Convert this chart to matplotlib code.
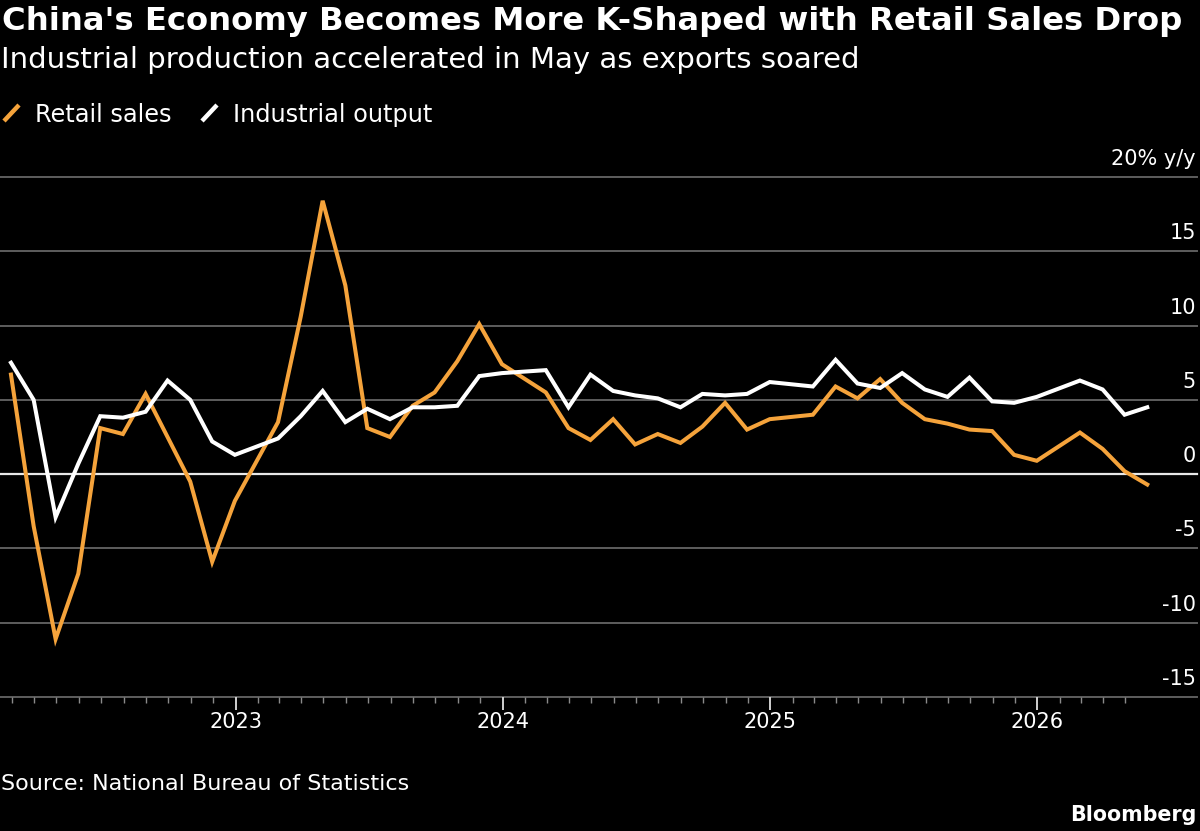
import matplotlib
matplotlib.use("Agg")
import matplotlib.pyplot as plt
import matplotlib.dates as mdates
import matplotlib.transforms as mtransforms
from matplotlib.lines import Line2D
import pandas as pd

# ---- data (month of observation; China reports Jan-Feb combined, no January) ----
months = [
    "2022-02", "2022-03", "2022-04", "2022-05", "2022-06", "2022-07", "2022-08", "2022-09", "2022-10", "2022-11", "2022-12",
    "2023-02", "2023-03", "2023-04", "2023-05", "2023-06", "2023-07", "2023-08", "2023-09", "2023-10", "2023-11", "2023-12",
    "2024-02", "2024-03", "2024-04", "2024-05", "2024-06", "2024-07", "2024-08", "2024-09", "2024-10", "2024-11", "2024-12",
    "2025-02", "2025-03", "2025-04", "2025-05", "2025-06", "2025-07", "2025-08", "2025-09", "2025-10", "2025-11", "2025-12",
    "2026-02", "2026-03", "2026-04", "2026-05",
]
retail_sales = [
    6.7, -3.5, -11.1, -6.7, 3.1, 2.7, 5.4, 2.5, -0.5, -5.9, -1.8,
    3.5, 10.6, 18.4, 12.7, 3.1, 2.5, 4.6, 5.5, 7.6, 10.1, 7.4,
    5.5, 3.1, 2.3, 3.7, 2.0, 2.7, 2.1, 3.2, 4.8, 3.0, 3.7,
    4.0, 5.9, 5.1, 6.4, 4.8, 3.7, 3.4, 3.0, 2.9, 1.3, 0.9,
    2.8, 1.7, 0.2, -0.7,
]
industrial_output = [
    7.5, 5.0, -2.9, 0.7, 3.9, 3.8, 4.2, 6.3, 5.0, 2.2, 1.3,
    2.4, 3.9, 5.6, 3.5, 4.4, 3.7, 4.5, 4.5, 4.6, 6.6, 6.8,
    7.0, 4.5, 6.7, 5.6, 5.3, 5.1, 4.5, 5.4, 5.3, 5.4, 6.2,
    5.9, 7.7, 6.1, 5.8, 6.8, 5.7, 5.2, 6.5, 4.9, 4.8, 5.2,
    6.3, 5.7, 4.0, 4.5,
]
y_ticks = [-15, -10, -5, 0, 5, 10, 15, 20]
y_tick_labels = ["-15", "-10", "-5", "0", "5", "10", "15", "20% y/y"]

title = "China's Economy Becomes More K-Shaped with Retail Sales Drop"
subtitle = "Industrial production accelerated in May as exports soared"
source = "Source: National Bureau of Statistics"

ORANGE = "#F5A33B"
WHITE = "#FFFFFF"
GRID = "#5E5E5E"
BG = "#000000"

# plotted at month end
dates = pd.to_datetime(months) + pd.offsets.MonthEnd(0)

W, H = 1200, 831
fig = plt.figure(figsize=(W / 100, H / 100), dpi=100, facecolor=BG)
plt.rcParams["font.family"] = ["DejaVu Sans"]

def fy(py):
    return 1 - py / H

ax = fig.add_axes([0, fy(697), 1197 / W, (697 - 177) / H], facecolor=BG)
ax.set_xlim(pd.Timestamp("2022-02-13"), pd.Timestamp("2026-08-07"))
ax.set_ylim(-15, 20)

for s in ax.spines.values():
    s.set_visible(False)

for v in y_ticks:
    if v == 0:
        ax.axhline(v, color="#E8E8E8", lw=1.6, zorder=1, clip_on=False)
    else:
        ax.axhline(v, color=GRID, lw=1.4, zorder=1, clip_on=False)

ax.plot(dates, retail_sales, color=ORANGE, lw=2.9, zorder=3, solid_joinstyle="miter")
ax.plot(dates, industrial_output, color=WHITE, lw=2.9, zorder=4, solid_joinstyle="miter")

# x ticks
ax.xaxis.set_major_locator(mdates.YearLocator())
ax.xaxis.set_major_formatter(mdates.DateFormatter("%Y"))
minor = pd.date_range("2022-03-01", "2026-05-01", freq="MS")
ax.set_xticks(minor, minor=True)
ax.tick_params(axis="x", which="major", length=9.5, width=1.4, color="#D0D0D0",
               labelcolor="white", labelsize=15, pad=1.5, direction="out")
ax.tick_params(axis="x", which="minor", length=4.5, width=1.0, color="#8A8A8A", direction="out")
ax.set_yticks([])

# y labels above gridlines, right aligned
trans = mtransforms.blended_transform_factory(ax.transAxes, ax.transData)
off = mtransforms.ScaledTranslation(0, 12 / 100, fig.dpi_scale_trans)
for v, lab in zip(y_ticks, y_tick_labels):
    ax.text(1196 / 1197, v, lab, transform=trans + off, ha="right", va="baseline",
            color="white", fontsize=15)

renderer = fig.canvas.get_renderer()

def fit(t, target_w):
    bb = t.get_window_extent(renderer)
    t.set_fontsize(t.get_fontsize() * target_w / bb.width)

t1 = fig.text(2 / W, fy(30), title, color="white", fontsize=22, fontweight="bold", va="baseline", ha="left")
fit(t1, 1178)
t2 = fig.text(1 / W, fy(68), subtitle, color="white", fontsize=20, va="baseline", ha="left")
fit(t2, 857)

# legend
l1 = fig.text(35 / W, fy(122), "Retail sales", color="white", fontsize=16, va="baseline", ha="left")
fit(l1, 137)
l2 = fig.text(233 / W, fy(122), "Industrial output", color="white", fontsize=16, va="baseline", ha="left")
fit(l2, 200)
fig.add_artist(Line2D([4 / W, 19 / W], [fy(121), fy(105)], color=ORANGE, lw=3.2,
                      transform=fig.transFigure, solid_capstyle="butt"))
fig.add_artist(Line2D([202 / W, 217 / W], [fy(121), fy(105)], color=WHITE, lw=3.2,
                      transform=fig.transFigure, solid_capstyle="butt"))

t3 = fig.text(1 / W, fy(790), source, color="white", fontsize=16, va="baseline", ha="left")
fit(t3, 408)
t4 = fig.text(1196 / W, fy(821), "Bloomberg", color="white", fontsize=16, fontweight="bold",
              va="baseline", ha="right")
fit(t4, 127)

fig.savefig("out.png", dpi=100, facecolor=BG)
